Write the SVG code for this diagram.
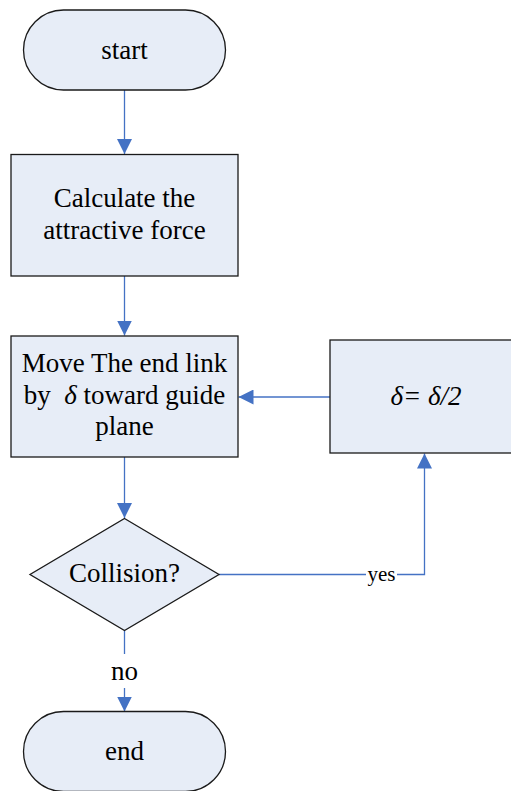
<svg xmlns="http://www.w3.org/2000/svg" width="511" height="791" viewBox="0 0 511 791">
<defs>
<style>
.node{fill:#E7EDF7;stroke:#1a1a1a;stroke-width:1.3}
.t{font-family:"Liberation Serif","Times New Roman",serif;font-size:27px;fill:#000;text-anchor:middle}
.lbl{font-family:"Liberation Serif","Times New Roman",serif;fill:#000;text-anchor:middle}
.c{fill:none;stroke:#4472C4;stroke-width:1.3}
.i{font-style:italic}
</style>
<marker id="ah" viewBox="0 0 10 10" refX="10" refY="5" markerWidth="15" markerHeight="15" markerUnits="userSpaceOnUse" orient="auto">
<path d="M0,0 L10,5 L0,10 Z" fill="#4472C4"/>
</marker>
</defs>
<rect width="511" height="791" fill="#fff"/>
<g id="connectors">
<line class="c" x1="124.5" y1="90" x2="124.5" y2="154" marker-end="url(#ah)"/>
<line class="c" x1="124.5" y1="276" x2="124.5" y2="335.5" marker-end="url(#ah)"/>
<line class="c" x1="330" y1="397" x2="238.5" y2="397" marker-end="url(#ah)"/>
<line class="c" x1="124.5" y1="457" x2="124.5" y2="518" marker-end="url(#ah)"/>
<polyline class="c" points="219,574.5 366,574.5"/>
<polyline class="c" points="397,574.5 424.5,574.5 424.5,453.5" marker-end="url(#ah)"/>
<line class="c" x1="124.5" y1="630.5" x2="124.5" y2="654"/>
<line class="c" x1="124.5" y1="688" x2="124.5" y2="711.5" marker-end="url(#ah)"/>
<text class="lbl" x="381.5" y="581" font-size="21">yes</text>
<text class="lbl" x="124.5" y="680" font-size="27">no</text>
</g>
<g id="start">
<rect class="node" x="23.5" y="10" width="202" height="80" rx="40" ry="40"/>
<text class="t" x="124.5" y="58.5">start</text>
</g>
<g id="calc">
<rect class="node" x="11" y="154.5" width="227" height="121.5"/>
<text class="t" x="124.5" y="207">Calculate the</text>
<text class="t" x="124.5" y="238.5">attractive force</text>
</g>
<g id="move">
<rect class="node" x="11" y="336" width="227" height="121"/>
<text class="t" x="124.5" y="372">Move The end link</text>
<text class="t" x="124.5" y="404">by&#160; <tspan class="i">δ</tspan> toward guide</text>
<text class="t" x="124.5" y="435">plane</text>
</g>
<g id="halve">
<rect class="node" x="330" y="340" width="190" height="113"/>
<text class="t i" x="426" y="405">δ= δ/2</text>
</g>
<g id="collision">
<polygon class="node" points="124.5,518.5 219,574.5 124.5,630.5 30,574.5"/>
<text class="t" x="124.5" y="582">Collision?</text>
</g>
<g id="end">
<rect class="node" x="23.5" y="711.5" width="202" height="80" rx="40" ry="40"/>
<text class="t" x="124.5" y="759.5">end</text>
</g>
</svg>
